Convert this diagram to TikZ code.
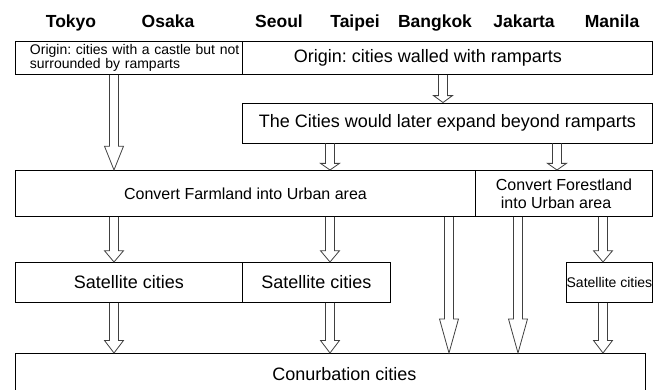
\documentclass[tikz,border=0pt]{standalone}
\usepackage{fontspec}
\setmainfont{Liberation Sans}
\frenchspacing
\usetikzlibrary{calc}

\tikzset{
	box/.style={draw,line width=0.9pt,inner sep=0pt,anchor=north west},
	city/.style={anchor=base,font=\fontsize{17.5}{18}\selectfont\bfseries},
	big/.style={font=\fontsize{18}{20}\selectfont},
	mid/.style={font=\fontsize{16}{18}\selectfont},
	small/.style={font=\fontsize{14}{14}\selectfont},
	% hollow block arrow, head is a quarter of the length
	fat/.style={draw=black!75,line width=0.8pt,to path={let \p1=(\tikztostart), \p2=(\tikztotarget), \n1={0.25*(\y1-\y2)} in
		(\x1-4.5pt,\y1) -- (\x1-4.5pt,\y2+\n1) -- (\x1-9.5pt,\y2+\n1) -- (\x1,\y2)
		-- (\x1+9.5pt,\y2+\n1) -- (\x1+4.5pt,\y2+\n1) -- (\x1+4.5pt,\y1)}}
}

\begin{document}
\begin{tikzpicture}[x=1pt,y=-1pt]
	\clip (0,0) rectangle (653,389);
	\fill[white] (0,0) rectangle (653,389);

	\foreach \name/\x in {Tokyo/71,Osaka/168,Seoul/279,Taipei/355,Bangkok/435,Jakarta/524,Manila/612}
		\node[city] (\name) at (\x,27) {\name};

	\coordinate (c1) at (114,0);
	\coordinate (c2) at (330,0);
	\coordinate (c3) at (443,0);
	\coordinate (c4) at (449,0);
	\coordinate (c5) at (518,0);
	\coordinate (c6) at (557,0);
	\coordinate (c7) at (603,0);

	\node[box,small,minimum width=227,minimum height=33.5,text width=222,align=left] (castle) at (15,40.5)
		{\hspace*{12pt}Origin: cities with a castle but not\\\hspace*{12pt}surrounded by ramparts};
	\node[box,big,minimum width=410,minimum height=33.5] (walled) at (242,40.5)
		{Origin: cities walled with ramparts\hspace*{39pt}};
	\node[box,big,minimum width=410,minimum height=40] (expand) at (242,102.5)
		{The Cities would later expand beyond ramparts};
	\node[box,mid,minimum width=460,minimum height=46] (farm) at (15,170)
		{Convert Farmland into Urban area};
	\node[box,mid,minimum width=177,minimum height=46,align=left] (forest) at (475,170)
		{Convert Forestland\\\hspace*{5pt}into Urban area};
	\node[box,big,minimum width=227,minimum height=40] (satA) at (15,262) {Satellite cities};
	\node[box,big,minimum width=148,minimum height=40] (satB) at (242,262) {Satellite cities};
	\node[box,small,minimum width=86,minimum height=40] (satC) at (566,262) {Satellite cities};
	\node[box,big,minimum width=630,minimum height=42] (conurb) at (15,353)
		{\hspace*{28pt}Conurbation cities};

	\foreach \a/\b/\c in {castle/farm/c1,walled/expand/c3,expand/farm/c2,expand/forest/c6,
		farm/satA/c1,farm/satB/c2,farm/conurb/c4,forest/conurb/c5,forest/satC/c7,
		satA/conurb/c1,satB/conurb/c2,satC/conurb/c7}
		\draw[fat] (\a.south -| \c) to (\b.north -| \c);
\end{tikzpicture}
\end{document}
